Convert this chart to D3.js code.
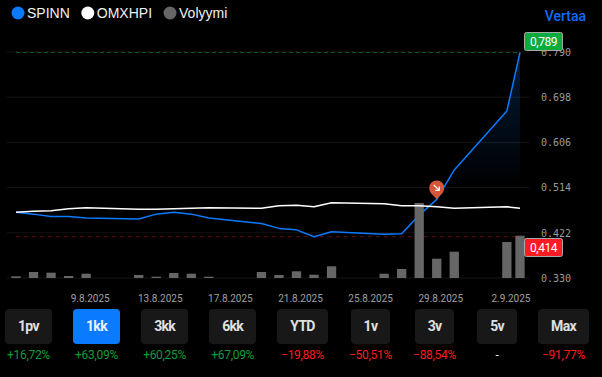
<!DOCTYPE html>
<html>
<head>
<meta charset="utf-8">
<script src="https://cdn.jsdelivr.net/npm/d3@7"></script>
<style>
    html, body { margin: 0; padding: 0; background: #000; width: 602px; height: 377px; overflow: hidden; }
    #chart { position: absolute; left: 0; top: 0; }
    #ranges { position: absolute; left: 5px; top: 309px; width: 584px; display: flex; justify-content: space-between; }
    .col { display: flex; flex-direction: column; align-items: center; }
    .btn { height: 35px; padding: 0 13px; border-radius: 4px; background: #181818; color: #e0e0e0;
        font: 700 14px Roboto, sans-serif; line-height: 35px; letter-spacing: -.7px; }
    .btn.active { background: #0a7aff; color: #e8f2ff; }
    .pct { margin-top: 4px; font: 400 12px Roboto, sans-serif; line-height: 14px; white-space: nowrap; letter-spacing: -.3px; }
</style>
</head>
<body>
<div id="chart"></div>
<div id="ranges"></div>
<script>
const dates = ["2025-08-04T00:00", "2025-08-05T00:00", "2025-08-06T00:00", "2025-08-07T00:00", "2025-08-08T00:00",
    "2025-08-11T00:00", "2025-08-12T00:00", "2025-08-13T00:00", "2025-08-14T00:00", "2025-08-15T00:00",
    "2025-08-18T00:00", "2025-08-19T00:00", "2025-08-20T00:00", "2025-08-21T00:00", "2025-08-22T00:00",
    "2025-08-25T00:00", "2025-08-26T00:00", "2025-08-27T00:00", "2025-08-28T00:00", "2025-08-29T00:00",
    "2025-09-01T00:00", "2025-09-01T18:00"]; // last one is the running day, it stops short of 2.9
const spinn = [.464, .460, .455, .455, .452, .450, .460, .464, .460, .452, .441, .431, .428, .414, .424, .419, .420, .458, .490, .550, .670, .789];
const omxhpi = [.464, .466, .467, .471, .473, .470, .470, .471, .472, .473, .472, .477, .478, .475, .483, .481, .477, .477, .475, .472, .475, .472];
const volume = [17, 60, 53, 20, 43, 30, 13, 50, 43, 13, 60, 30, 67, 33, 117, 43, 90, 750, 193, 263, 360, 423];
const yTicks = [.330, .422, .514, .606, .698, .790];
const dateTicks = ["2025-08-09T00:00", "2025-08-13T00:00", "2025-08-17T00:00", "2025-08-21T00:00", "2025-08-25T00:00", "2025-08-29T00:00", "2025-09-02T00:00"];
const rangeNames = ["1pv", "1kk", "3kk", "6kk", "YTD", "1v", "3v", "5v", "Max"];
const rangeChanges = ["+16,72%", "+63,09%", "+60,25%", "+67,09%", "−19,88%", "−50,51%", "−88,54%", "-", "−91,77%"];
const legendNames = ["SPINN", "OMXHPI", "Volyymi"];
const legendColors = ["#0a7aff", "#ffffff", "#666666"];
const eventDate = "2025-08-28T00:00";

const parsed = dates.map(d => new Date(d));
const high = d3.max(spinn), low = d3.min(spinn);

const svg = d3.select("#chart").append("svg").attr("width", 602).attr("height", 305);

const x = d3.scaleTime().domain(d3.extent(parsed)).range([16, 520]);
const y = d3.scaleLinear().domain([.330, .790]).range([278, 52]);
const yVol = d3.scaleLinear().domain([0, 750]).range([278, 203]);

const grad = svg.append("defs").append("linearGradient")
    .attr("id", "area-gradient")
    .attr("gradientUnits", "userSpaceOnUse")
    .attr("x1", 0).attr("x2", 0).attr("y1", y(high)).attr("y2", y(.514));
grad.append("stop").attr("offset", "0%").attr("stop-color", "#0a7aff").attr("stop-opacity", .22);
grad.append("stop").attr("offset", "100%").attr("stop-color", "#0a7aff").attr("stop-opacity", 0);

// grid
svg.append("g").selectAll("line").data(yTicks).enter().append("line")
    .attr("x1", 7).attr("x2", 529)
    .attr("y1", d => y(d)).attr("y2", d => y(d))
    .attr("stroke", "#151515");

// high / low
svg.append("line").attr("x1", 16).attr("x2", 520).attr("y1", y(high)).attr("y2", y(high))
    .attr("stroke", "#0c5a22").attr("stroke-dasharray", "4,3");
svg.append("line").attr("x1", 16).attr("x2", 524).attr("y1", y(low)).attr("y2", y(low))
    .attr("stroke", "#5a1414").attr("stroke-dasharray", "4,4");

// y axis
const yAxis = svg.append("g")
    .attr("transform", "translate(533,0)")
    .call(d3.axisRight(y).tickValues(yTicks).tickFormat(d3.format(".3f")).tickSize(0));
yAxis.select(".domain").remove();
yAxis.selectAll("text")
    .attr("x", 8)
    .style("font-family", "'DejaVu Sans Mono', monospace")
    .style("font-size", "10px")
    .style("fill", "#9a9a9a");

// x axis
const xAxis = svg.append("g")
    .attr("transform", "translate(0,289)")
    .call(d3.axisBottom(x).tickValues(dateTicks.map(d => new Date(d))).tickFormat(d3.timeFormat("%-d.%-m.%Y")).tickSize(0));
xAxis.select(".domain").remove();
xAxis.selectAll("text")
    .attr("dx", -14)
    .attr("y", 6)
    .style("font-family", "Roboto, sans-serif")
    .style("font-size", "10px")
    .style("fill", "#a0a0a0");

// area and SPINN go under the bars
const area = d3.area().x((d, i) => x(parsed[i])).y0(y(.330)).y1(d => y(d));
svg.append("path").datum(spinn).attr("d", area).attr("fill", "url(#area-gradient)");

const line = d3.line().x((d, i) => x(parsed[i])).y(d => y(d));
svg.append("path").datum(spinn).attr("d", line)
    .attr("fill", "none").attr("stroke", "#0a7aff").attr("stroke-width", 1.5).attr("stroke-linejoin", "round");

// Bars
const barWidth = 9.3;
svg.append("g").selectAll("rect").data(volume).enter().append("rect")
    .attr("x", (d, i) => x(parsed[i]) - barWidth / 2)
    .attr("y", d => yVol(d))
    .attr("width", barWidth)
    .attr("height", d => yVol(0) - yVol(d))
    .attr("fill", "#666666");

svg.append("path").datum(omxhpi).attr("d", line)
    .attr("fill", "none").attr("stroke", "#ffffff").attr("stroke-width", 1.5).attr("stroke-linejoin", "round");

// event pin
const eventIdx = dates.indexOf(eventDate);
const pin = svg.append("g")
    .attr("transform", "translate(" + x(parsed[eventIdx]) + "," + y(spinn[eventIdx]) + ")");
pin.append("path")
    .attr("d", "M0,0 C-2,-3.5 -7.5,-6 -7.5,-11.5 A7.5,7.5 0 1 1 7.5,-11.5 C7.5,-6 2,-3.5 0,0 Z")
    .attr("fill", "#d4573a");
pin.append("path")
    .attr("d", "M-3,-14.5 L2,-9.5 M2.5,-13 L2.5,-9 L-1.5,-9")
    .attr("fill", "none").attr("stroke", "#fff").attr("stroke-width", 1.3);

// value tags on top of the axis
function valueTag(value, fill, top) {
    const g = svg.append("g").attr("transform", "translate(524," + top + ")");
    g.append("rect").attr("width", 38).attr("height", 18).attr("x", .5).attr("y", .5).attr("rx", 2)
        .attr("fill", fill).attr("stroke", "#a8a8a8");
    g.append("text").attr("x", 19.5).attr("y", 13.5).attr("text-anchor", "middle")
        .style("font", "400 12px Roboto, sans-serif").style("letter-spacing", "-.5px").style("fill", "#fff")
        .text(d3.format(".3f")(value).replace(".", ","));
}
valueTag(high, "#0bab3e", 32);
valueTag(low, "#ff1a24", 238);

// legend
let legendX = 11;
legendNames.forEach((name, i) => {
    const g = svg.append("g").attr("transform", "translate(" + legendX + ",0)");
    g.append("circle").attr("cx", 7).attr("cy", 13).attr("r", 6.5).attr("fill", legendColors[i]);
    const t = g.append("text").attr("x", 16).attr("y", 18)
        .style("font", "400 14px 'Liberation Sans', sans-serif").style("fill", "#f0f0f0")
        .text(name);
    legendX += 16 + t.node().getComputedTextLength() + 11;
});

svg.append("text").attr("x", 586).attr("y", 21).attr("text-anchor", "end")
    .style("font", "500 14px Roboto, sans-serif").style("fill", "#0a6cff")
    .text("Vertaa");

// range buttons
const cols = d3.select("#ranges").selectAll(".col").data(rangeNames).enter().append("div").attr("class", "col");
cols.append("div")
    .attr("class", d => d === "1kk" ? "btn active" : "btn")
    .text(d => d);
cols.append("div")
    .attr("class", "pct")
    .style("color", (d, i) => rangeChanges[i][0] === "+" ? "#0f9d3a" : rangeChanges[i][0] === "−" ? "#ff1a1a" : "#e0e0e0")
    .text((d, i) => rangeChanges[i]);
</script>
</body>
</html>
